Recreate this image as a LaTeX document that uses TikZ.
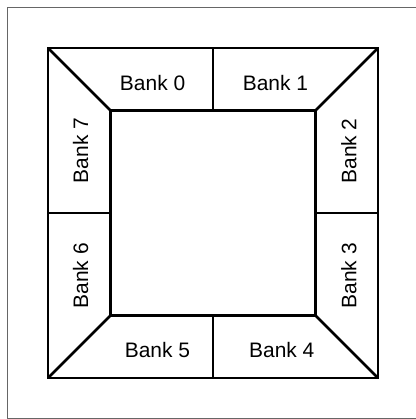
\documentclass[tikz,border=0pt]{standalone}
\usepackage{fontspec}
\setmainfont{Liberation Sans}
\usetikzlibrary{positioning}

\begin{document}
\begin{tikzpicture}[line width=1.9pt, every node/.style={font=\fontsize{14.9}{18}\selectfont}]
            \useasboundingbox (-5.325,-5.15) rectangle (5.075,5.325);
            % Frame
            \draw[line width=0.7pt, black!60] (5.075,5.1375) -- (-5.1375,5.1375) -- (-5.1375,-5.125) -- (5.075,-5.125);
            
            % Ring corners
            \coordinate (otl) at (-4.125,4.125);
            \coordinate (otr) at (4.125,4.125);
            \coordinate (obr) at (4.125,-4.125);
            \coordinate (obl) at (-4.125,-4.125);
            \coordinate (itl) at (-2.5625,2.5625);
            \coordinate (itr) at (2.5625,2.5625);
            \coordinate (ibr) at (2.5625,-2.5625);
            \coordinate (ibl) at (-2.5625,-2.5625);
            \draw (otl) rectangle (obr);
            \draw (itl) rectangle (ibr);
            \draw (otl) -- (itl) (otr) -- (itr) (obr) -- (ibr) (obl) -- (ibl);
            
            % Dividers
            \draw (0,4.125) -- (0,2.5625) (0,-4.125) -- (0,-2.5625);
            \draw (-4.125,0) -- (-2.5625,0) (4.125,0) -- (2.5625,0);
            
            % Banks
            \node (b0) at (-1.51,3.26) {Bank 0};
            \node (b1) at (1.56,3.26) {Bank 1};
            \node[rotate=90] (b2) at (3.4,1.55) {Bank 2};
            \node[rotate=90] (b3) at (3.4,-1.57) {Bank 3};
            \node (b4) at (1.72,-3.42) {Bank 4};
            \node (b5) at (-1.39,-3.42) {Bank 5};
            \node[rotate=90] (b6) at (-3.31,-1.57) {Bank 6};
            \node[rotate=90] (b7) at (-3.31,1.56) {Bank 7};
        \end{tikzpicture}
\end{document}
